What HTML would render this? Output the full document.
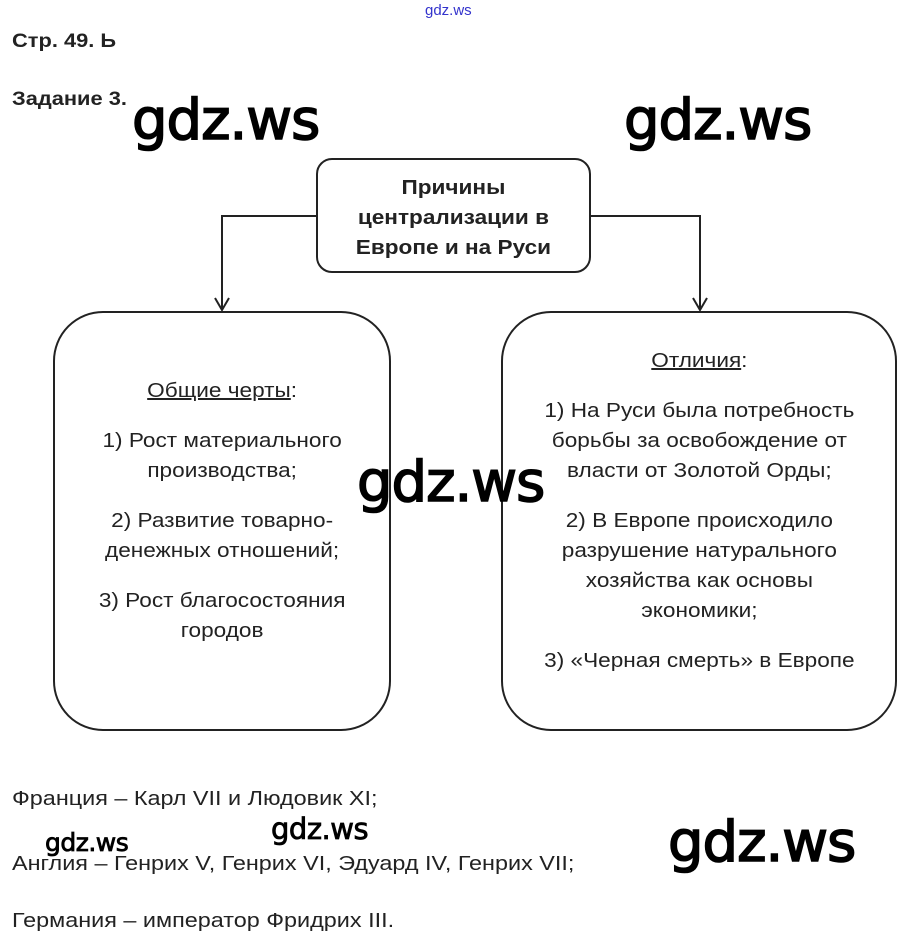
<!DOCTYPE html>
<html><head><meta charset="utf-8"><style>
body{margin:0;width:907px;height:946px;background:#fff;position:relative;overflow:hidden;font-family:"Liberation Sans",Arial,sans-serif;color:#222}
.a{position:absolute;white-space:nowrap}
.box{position:absolute;border:2px solid #222;box-sizing:border-box;text-align:center;font-size:20px;line-height:30px}
.box span,.t{display:inline-block;transform:scaleX(1.13);transform-origin:center}
.wm{position:absolute;font-family:"DejaVu Sans",sans-serif;color:#000;white-space:nowrap;letter-spacing:-1px;-webkit-text-stroke:1.6px #000}
u{text-decoration:underline}
</style></head><body>
<div class="a" style="left:425px;top:2px;font-size:15px;color:#3333cc">gdz.ws</div>
<div class="a" style="left:12px;top:31px;font-size:19px;font-weight:bold;transform:scaleX(1.15);transform-origin:left">Стр. 49. Ь</div>
<div class="a" style="left:12px;top:89px;font-size:19px;font-weight:bold;transform:scaleX(1.15);transform-origin:left">Задание 3.</div>

<svg style="position:absolute;left:0;top:0" width="907" height="946">
<g fill="none" stroke="#222" stroke-width="2">
<path d="M316 216H222V309"/><path d="M215 298L222 310L229 298"/>
<path d="M590 216H700V309"/><path d="M693 298L700 310L707 298"/>
</g></svg>

<div class="box" style="left:316px;top:158px;width:275px;height:115px;border-radius:16px;font-weight:bold;padding-top:13px"><span>Причины<br>централизации в<br>Европе и на Руси</span></div>
<div class="box" style="left:53px;top:311px;width:338px;height:420px;border-radius:50px;padding-top:63px"><span><u>Общие черты</u>:<div style="height:20px"></div>1) Рост материального<br>производства;<div style="height:20px"></div>2) Развитие товарно-<br>денежных отношений;<div style="height:20px"></div>3) Рост благосостояния<br>городов</span></div>
<div class="box" style="left:501px;top:311px;width:396px;height:420px;border-radius:50px;padding-top:33px"><span><u>Отличия</u>:<div style="height:20px"></div>1) На Руси была потребность<br>борьбы за освобождение от<br>власти от Золотой Орды;<div style="height:20px"></div>2) В Европе происходило<br>разрушение натурального<br>хозяйства как основы<br>экономики;<div style="height:20px"></div>3) «Черная смерть» в Европе</span></div>

<div class="a" style="left:12px;top:788px;font-size:20px;transform:scaleX(1.17);transform-origin:left">Франция – Карл VII и Людовик XI;</div>
<div class="a" style="left:12px;top:853px;font-size:20px;transform:scaleX(1.17);transform-origin:left">Англия – Генрих V, Генрих VI, Эдуард IV, Генрих VII;</div>
<div class="a" style="left:12px;top:910px;font-size:20px;transform:scaleX(1.17);transform-origin:left">Германия – император Фридрих III.</div>

<div class="wm" style="left:132px;top:88px;font-size:56px">gdz.ws</div>
<div class="wm" style="left:624px;top:88px;font-size:56px">gdz.ws</div>
<div class="wm" style="left:357px;top:450px;font-size:56px">gdz.ws</div>
<div class="wm" style="left:668px;top:810px;font-size:56px">gdz.ws</div>
<div class="wm" style="left:45px;top:828px;font-size:25px;letter-spacing:-0.5px;-webkit-text-stroke:0.8px #000">gdz.ws</div>
<div class="wm" style="left:271px;top:812px;font-size:29px;letter-spacing:-0.5px;-webkit-text-stroke:0.8px #000">gdz.ws</div>
</body></html>
